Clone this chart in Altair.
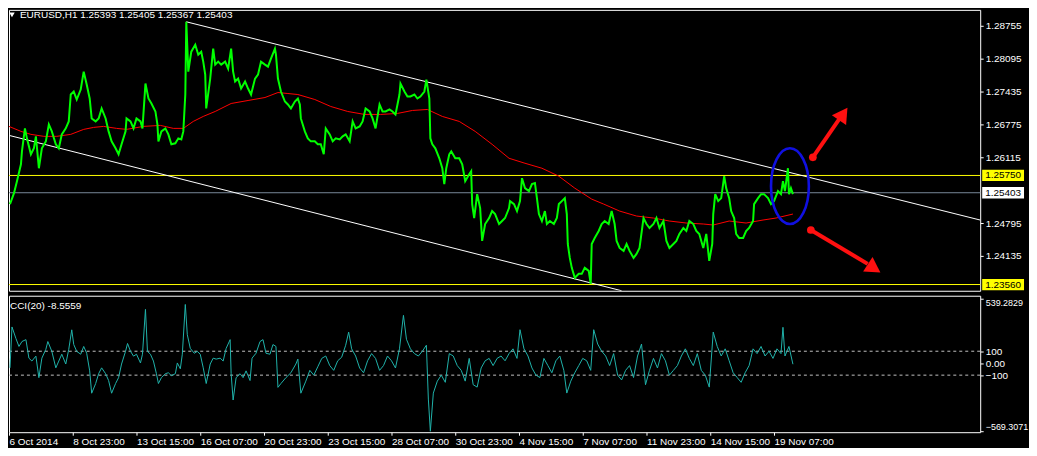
import altair as alt
import pandas as pd

# ---------------- data (bar index = hourly bars since 6 Oct 2014 07:00) ----------------
price_idx = [1,5,8,12,13,16,18,22,25,27,30,33,37,40,43,47,50,53,57,60,62,65,68,72,75,78,81,83,87,90,93,97,100,103,107,110,113,117,118,122,125,128,132,134,137,140,143,147,149,150,153,157,160,163,167,170,173,175,177,178,180,183,187,190,193,195,197,198,202,205,207,210,213,217,220,223,225,227,230,233,237,240,243,247,250,253,257,260,263,267,268,270,273,277,280,283,287,290,292,293,297,300,303,307,310,313,316,318,322,325,328,332,335,338,342,345,348,352,355,358,362,365,368,372,375,378,382,385,388,392,393,397,400,403,407,410,413,417,419,422,423,425,428,432,435,437,439,442,444,448,452,455,458,462,464,465,467,470,473,475,478,482,485,488,492,495,498,502,503,507,510,513,515,518,522,525,528,530,532,535,538,540,543,547,550,552,555,558,560,561,563,565,568,572,575,578,582,584,585,588,592,595,598,602,605,608,610,613,617,620,623,627,630,633,637,640,643,647,650,653,657,660,663,667,670,673,677,680,683,687,690,693,697,700,703,706,707,709,712,715,718,720,723,725,728,730,733,737,740,743,747,748,752,755,758,762,765,768,772,775,777,779,782,783,785,787]
price_close = [1.25175,1.25395,1.25635,1.25975,1.26235,1.26695,1.26495,1.26175,1.26295,1.26535,1.25895,1.26295,1.26435,1.26775,1.26635,1.26375,1.26295,1.26575,1.26695,1.26835,1.27375,1.27435,1.27275,1.27475,1.27835,1.27575,1.27295,1.26895,1.26835,1.26895,1.27095,1.26895,1.26635,1.26435,1.26295,1.26175,1.26375,1.26635,1.26895,1.26835,1.26695,1.26895,1.26835,1.26695,1.27595,1.27295,1.27195,1.27035,1.26775,1.26435,1.26635,1.26695,1.26575,1.26375,1.26395,1.26495,1.26475,1.26635,1.27375,1.28835,1.27835,1.28235,1.28375,1.28175,1.28235,1.28035,1.27775,1.27095,1.27695,1.28295,1.27975,1.28035,1.27975,1.28035,1.27895,1.28295,1.27835,1.27635,1.27695,1.27495,1.27635,1.27495,1.27375,1.27695,1.27775,1.28035,1.27975,1.27935,1.28095,1.28295,1.28175,1.27695,1.27435,1.27235,1.27175,1.27095,1.27235,1.27295,1.27175,1.26895,1.26635,1.26495,1.26435,1.26435,1.26375,1.26375,1.26175,1.26695,1.26575,1.26435,1.26495,1.26475,1.26535,1.26575,1.26435,1.26835,1.26695,1.26735,1.26835,1.27095,1.27035,1.26895,1.26695,1.27175,1.27035,1.27035,1.27075,1.27035,1.26975,1.27375,1.27595,1.27435,1.27335,1.27335,1.27375,1.27295,1.27335,1.27435,1.27675,1.27295,1.26495,1.26375,1.26295,1.26095,1.25895,1.25575,1.25895,1.26175,1.26235,1.26095,1.26095,1.25975,1.25635,1.25775,1.25835,1.25175,1.24895,1.25375,1.25095,1.24435,1.24775,1.24895,1.25035,1.24975,1.24775,1.24835,1.24895,1.25095,1.25235,1.25175,1.25035,1.25235,1.25695,1.25495,1.25435,1.25575,1.25595,1.25295,1.24975,1.24835,1.25035,1.24775,1.24835,1.24775,1.24895,1.25175,1.25235,1.25295,1.24975,1.24375,1.24095,1.23895,1.23695,1.23775,1.23775,1.23895,1.23835,1.23575,1.24375,1.24495,1.24635,1.24775,1.24835,1.24775,1.25035,1.24775,1.24435,1.24295,1.24235,1.24375,1.24235,1.24095,1.24175,1.24295,1.24895,1.24775,1.24695,1.24775,1.24895,1.24695,1.24835,1.24435,1.24295,1.24375,1.24435,1.24575,1.24695,1.24635,1.24835,1.24775,1.24635,1.24575,1.24295,1.24575,1.24035,1.24375,1.24975,1.25375,1.25235,1.25295,1.25735,1.25495,1.25295,1.25035,1.24895,1.24575,1.24495,1.24495,1.24635,1.24695,1.24835,1.25175,1.25295,1.25375,1.25375,1.25295,1.25175,1.25235,1.25435,1.25375,1.25635,1.25435,1.25895,1.25375,1.25495,1.25375]

ma_idx = [0,12,22,35,48,62,75,85,95,108,118,135,152,165,175,185,195,207,223,240,257,270,280,290,307,323,340,357,373,390,405,420,435,452,468,485,502,518,535,552,568,585,597,613,630,647,663,680,697,707,723,740,757,770,787]
ma_val = [1.26735,1.26635,1.26575,1.26535,1.26535,1.26575,1.26675,1.26715,1.26735,1.26695,1.26675,1.26735,1.26755,1.26695,1.26695,1.26835,1.26935,1.27035,1.27195,1.27255,1.27315,1.27415,1.27395,1.27375,1.27275,1.27135,1.27035,1.26975,1.26975,1.26995,1.27055,1.27075,1.26935,1.26835,1.26635,1.26375,1.26095,1.25995,1.25895,1.25735,1.25495,1.25275,1.25175,1.25035,1.24935,1.24895,1.24835,1.24795,1.24775,1.24755,1.24835,1.24795,1.24855,1.24895,1.24975]

cci_idx = [1,3,7,10,13,17,20,23,27,30,33,37,39,43,47,50,53,57,60,63,65,68,72,75,78,81,83,87,90,93,97,100,103,107,110,113,117,119,122,125,128,132,134,137,139,142,145,148,150,153,157,160,163,167,169,172,174,177,179,182,186,189,192,195,198,202,205,208,212,215,218,222,223,225,228,232,235,238,242,244,248,252,255,258,262,265,268,270,273,278,283,288,290,293,298,302,306,310,314,318,322,326,330,334,338,341,344,348,352,356,360,364,368,372,376,380,384,388,392,396,399,403,407,411,415,419,421,423,426,430,434,438,442,446,450,454,458,462,466,470,474,478,482,486,490,494,498,502,506,510,513,517,521,525,529,533,537,541,545,549,553,557,560,564,568,572,576,580,584,587,591,595,599,603,607,611,615,619,623,627,631,635,639,643,647,651,655,659,663,667,671,675,679,683,687,691,695,699,703,707,711,715,719,723,727,731,735,739,743,747,751,755,759,763,767,771,775,777,779,783,787]
cci_val = [-39,303,205,140,181,197,42,18,59,-121,42,116,181,99,-39,18,75,-7,116,279,156,99,75,140,83,-64,-251,-170,-88,-39,-88,-145,-251,-170,-121,-7,99,165,99,59,75,2,75,450,99,75,18,-88,-170,-121,-88,-80,-104,-88,2,-47,75,491,238,124,83,99,75,-39,-170,-7,42,34,42,18,124,197,-88,-308,-121,-88,-121,-64,-145,42,83,181,197,83,75,156,140,-202,-170,-121,-80,-7,34,-251,-150,-60,-100,-30,40,60,-20,-60,20,50,150,260,120,60,-40,-80,20,80,40,-60,-20,60,20,-40,120,400,200,120,80,60,100,150,-300,-569,-250,-150,-100,-160,80,60,-20,-60,-150,40,-180,-200,-40,20,40,-20,40,60,20,80,120,40,280,120,60,-40,-100,-120,40,-20,-80,20,60,-60,-250,-150,-80,-20,40,20,-60,280,160,100,60,-20,80,-100,-140,-60,-20,-120,60,160,-180,-60,40,-40,80,20,-100,-60,-20,60,120,40,-20,80,-60,-100,-200,260,140,60,120,20,-80,-120,-160,-80,-20,120,80,140,60,100,40,120,80,300,60,140,-8.6]

x_ticks = [0, 64, 128, 192, 256, 320, 384, 448, 512, 576, 640, 704, 768]
x_labels = ["6 Oct 2014", "8 Oct 23:00", "13 Oct 15:00", "16 Oct 07:00", "20 Oct 23:00",
            "23 Oct 15:00", "28 Oct 07:00", "30 Oct 23:00", "4 Nov 15:00", "7 Nov 07:00",
            "11 Nov 23:00", "14 Nov 15:00", "19 Nov 07:00"]
price_ticks = [1.28755, 1.28095, 1.27435, 1.26775, 1.26115, 1.24795, 1.24135]
cci_ticks = [539.2829, 100, 0, -100, -569.3071]

# trend channel (start index, start price, end index, end price)
chan_i1 = [178, 0]
chan_p1 = [1.28835, 1.26555]
chan_i2 = [987, 615]
chan_p2 = [1.24795, 1.23435]

level_prices = [1.25750, 1.23560]
bid_price = 1.25403

# annotation arrows
arrow_i1 = [807, 805]
arrow_p1 = [1.26115, 1.24655]
arrow_i2 = [834, 862]
arrow_p2 = [1.26895, 1.23975]
head_i = [837.5, 868.5]
head_p = [1.26985, 1.23885]
head_angle = [34.5, 123]

ellipse_i = [784]
ellipse_p = [1.25535]

title_text = "EURUSD,H1  1.25393 1.25405 1.25367 1.25403"
cci_title = "CCI(20) -8.5559"

# ---------------- chart ----------------
FONT = "Liberation Sans"
FS = 10
W = 975
H_TOP = 282
H_CCI = 137
X_DOMAIN = [0, 975]
P_DOMAIN = [1.23435, 1.29075]
C_DOMAIN = [-577, 564]

lab_arr = "[" + ",".join("'%s'" % s for s in x_labels) + "]"

def xenc(field="i", show=False):
    if show:
        ax = alt.Axis(values=x_ticks, labelExpr=lab_arr + "[round(datum.value/64)]",
                      labelAlign="left", labelFlush=False, labelOverlap=False,
                      labelColor="white", labelFont=FONT, labelFontSize=FS,
                      labelPadding=1, tickColor="white", tickSize=3, domain=False,
                      grid=False, title=None)
    else:
        ax = None
    return alt.X(f"{field}:Q", scale=alt.Scale(domain=X_DOMAIN, nice=False, zero=False), axis=ax)

price_axis = alt.Axis(values=price_ticks, format=".5f", orient="right", labelColor="white",
                      labelFont=FONT, labelFontSize=FS, labelOverlap=False, labelPadding=2,
                      tickColor="white", tickSize=3, domain=False, grid=False, title=None)

def penc(field="p"):
    return alt.Y(f"{field}:Q", scale=alt.Scale(domain=P_DOMAIN, nice=False, zero=False),
                 axis=price_axis)

df_price = pd.DataFrame({"i": price_idx, "p": price_close})
df_ma = pd.DataFrame({"i": ma_idx, "p": ma_val})
df_chan = pd.DataFrame({"i": chan_i1, "p": chan_p1, "i2": chan_i2, "p2": chan_p2})
df_lvl = pd.DataFrame({"p": level_prices})
df_bid = pd.DataFrame({"p": [bid_price]})
df_arrow = pd.DataFrame({"i": arrow_i1, "p": arrow_p1, "i2": arrow_i2, "p2": arrow_p2})
df_head = pd.DataFrame({"i": head_i, "p": head_p, "a": head_angle})
df_ell = pd.DataFrame({"i": ellipse_i, "p": ellipse_p})
df_lab = pd.DataFrame({"p": level_prices + [bid_price],
                       "t": ["%.5f" % v for v in level_prices] + ["%.5f" % bid_price],
                       "bg": ["#ffff00", "#ffff00", "#ffffff"]})

base_lvl = alt.Chart(df_lvl).mark_rule(color="#ffff00", strokeWidth=1).encode(y=penc())
bid = alt.Chart(df_bid).mark_rule(color="#778899", strokeWidth=1).encode(y=penc())
chan = alt.Chart(df_chan).mark_rule(color="white", strokeWidth=1, clip=True).encode(
    x=xenc(), y=penc(), x2="i2:Q", y2="p2:Q")
ma = alt.Chart(df_ma).mark_line(color="#ff0000", strokeWidth=1, clip=True).encode(
    x=xenc(), y=penc())
price = alt.Chart(df_price).mark_line(color="#00ff00", strokeWidth=2, clip=True).encode(
    x=xenc(), y=penc())

ellipse_path = ("M 0 -1 C 0.276 -1 0.5 -0.552 0.5 0 C 0.5 0.552 0.276 1 0 1 "
                "C -0.276 1 -0.5 0.552 -0.5 0 C -0.5 -0.552 -0.276 -1 0 -1 Z")
ell = alt.Chart(df_ell).mark_point(shape=ellipse_path, size=5776, filled=False,
                                   color="#1010e0", strokeWidth=2.6, opacity=1).encode(
    x=xenc(), y=penc())

arrow_lines = alt.Chart(df_arrow).mark_rule(color="#ff1010", strokeWidth=4).encode(
    x=xenc(), y=penc(), x2="i2:Q", y2="p2:Q")
arrow_dots = alt.Chart(df_arrow).mark_point(shape="circle", size=60, filled=True,
                                            color="#ff1010", opacity=1).encode(
    x=xenc(), y=penc())
arrow_heads = alt.Chart(df_head).mark_point(shape="triangle-up", size=300, filled=True,
                                            color="#ff1010", opacity=1).encode(
    x=xenc(), y=penc(), angle=alt.Angle("a:Q", scale=None))

lab_box = alt.Chart(df_lab).mark_point(shape="M -1 -0.27 L 1 -0.27 L 1 0.27 L -1 0.27 Z",
                                       size=1764, filled=True, opacity=1).encode(
    x=alt.value(W + 23), y=penc(), color=alt.Color("bg:N", scale=None))
lab_txt = alt.Chart(df_lab).mark_text(align="left", baseline="middle", font=FONT,
                                      fontSize=FS, color="black").encode(
    x=alt.value(W + 5), y=penc(), text="t:N")

title_tri = alt.Chart(pd.DataFrame({"t": [title_text]})).mark_point(
    shape="triangle-down", size=30, filled=True, color="white", opacity=1).encode(
    x=alt.value(3), y=alt.value(5))
title = alt.Chart(pd.DataFrame({"t": [title_text]})).mark_text(
    align="left", baseline="middle", font=FONT, fontSize=FS, color="white").encode(
    x=alt.value(11), y=alt.value(5), text="t:N")

top = alt.layer(base_lvl, bid, chan, ma, price, ell, arrow_lines, arrow_dots, arrow_heads,
                lab_box, lab_txt, title_tri, title).properties(width=W, height=H_TOP)

# CCI panel
cci_axis = alt.Axis(values=cci_ticks, orient="right",
                    labelExpr="abs(datum.value) > 500 ? format(datum.value, '.4f') : (datum.value == 0 ? '0.00' : format(datum.value, 'd'))",
                    labelBaseline={"condition": [{"test": "datum.value > 500", "value": "top"},
                                                 {"test": "datum.value < -500", "value": "bottom"}],
                                   "value": "middle"},
                    labelFontSize={"condition": {"test": "abs(datum.value) > 500", "value": 9},
                                   "value": FS},
                    labelColor="white", labelFont=FONT, labelOverlap=False,
                    labelPadding=2, tickColor="white", tickSize=3, domain=False, grid=False,
                    title=None)

def cenc(field="c"):
    return alt.Y(f"{field}:Q", scale=alt.Scale(domain=C_DOMAIN, nice=False, zero=False),
                 axis=cci_axis)

df_cci = pd.DataFrame({"i": cci_idx, "c": cci_val})
cci_line = alt.Chart(df_cci).mark_line(color="#20b2aa", strokeWidth=1, clip=True).encode(
    x=xenc(show=True), y=cenc())
cci_lv = alt.Chart(pd.DataFrame({"c": [100, -100]})).mark_rule(
    color="#c0c0c0", strokeDash=[3, 3], strokeWidth=1).encode(y=cenc())
cci_t = alt.Chart(pd.DataFrame({"t": [cci_title]})).mark_text(
    align="left", baseline="middle", font=FONT, fontSize=FS, color="white").encode(
    x=alt.value(1), y=alt.value(10), text="t:N")

bottom = alt.layer(cci_lv, cci_line, cci_t).properties(width=W, height=H_CCI)

chart = alt.vconcat(top, bottom, spacing=3).properties(
    padding=0, background="black"
).configure_view(stroke="white", strokeWidth=1)

chart.save("out.html", embed_options={"renderer": "svg", "actions": False})
